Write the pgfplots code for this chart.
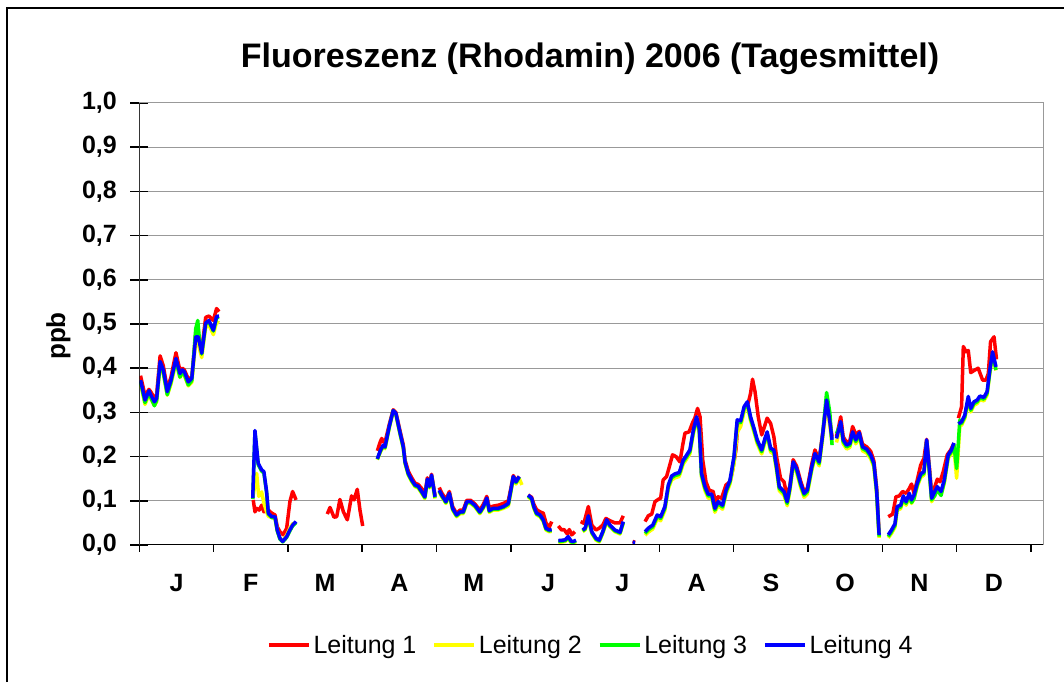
\documentclass[border=0pt]{standalone}
\usepackage{pgfplots}
\pgfplotsset{compat=1.18}
\usepackage{fontspec}
\setmainfont{Liberation Sans}
\definecolor{lred}{RGB}{255,0,0}
\definecolor{lyel}{RGB}{255,255,0}
\definecolor{lgrn}{RGB}{0,255,0}
\definecolor{lblu}{RGB}{0,0,255}
\begin{document}
\begin{tikzpicture}[x=1pt,y=1pt]
\useasboundingbox (0,0) rectangle (1064,682);
\draw[line width=2pt] (7,0) -- (7,674) -- (1064,674);
\node[font=\fontsize{34}{40}\selectfont\bfseries, anchor=base] at (590,614) {Fluoreszenz (Rhodamin) 2006 (Tagesmittel)};
\node[font=\fontsize{26}{30}\selectfont\bfseries, rotate=90, anchor=base] at (65,346) {ppb};
\begin{axis}[
  at={(139.3pt,137pt)}, anchor=south west,
  width=904pt, height=442pt, scale only axis,
  xmin=0, xmax=365, ymin=0, ymax=1,
  unbounded coords=jump,
  axis line style={color=gray!80, line width=1pt},
  ymajorgrids, major grid style={color=gray!80, line width=1pt},
  ytick={0,0.1,0.2,0.3,0.4,0.5,0.6,0.7,0.8,0.9,1.0},
  yticklabels={{0,0},{0,1},{0,2},{0,3},{0,4},{0,5},{0,6},{0,7},{0,8},{0,9},{1,0}},
  ytick pos=left, xtick pos=bottom,
  ytick align=center, xtick align=outside,
  major tick length=18pt, minor tick length=7pt,
  y tick style={black, line width=1.5pt},
  major x tick style={draw=none},
  minor x tick style={black, line width=1.5pt},
  xtick={15,45,75,105,135,165,195,225,255,285,315,345},
  xticklabels={J,F,M,A,M,J,J,A,S,O,N,D},
  minor xtick={0,30,60,90,120,150,180,210,240,270,300,330,360},
  yticklabel style={font=\fontsize{25}{28}\selectfont\bfseries, xshift=-10pt},
  xticklabel style={font=\fontsize{25}{28}\selectfont\bfseries, yshift=-8pt},
  legend columns=4,
  legend style={draw=none, at={(0.5,-0.226)}, anchor=center,
    font=\fontsize{25}{30}\selectfont,
    /tikz/every even column/.append style={column sep=13pt},
    nodes={inner xsep=3pt}},
  legend image code/.code={\draw[#1] (0pt,0pt) -- (40pt,0pt);},
  every axis plot/.append style={line width=3.5pt, line join=round},
]
% Leitung 1
\addplot[color=lred] table {
x y
0.5 0.383
2.3 0.338
3.9 0.352
4.7 0.346
6.1 0.332
7.0 0.340
8.4 0.428
9.7 0.405
11.3 0.353
12.8 0.380
14.8 0.435
16.4 0.395
17.4 0.400
18.2 0.396
19.8 0.375
21.2 0.380
22.8 0.478
23.8 0.475
25.2 0.440
26.8 0.515
28.1 0.518
29.9 0.508
31.2 0.535
32.2 0.528
nan nan
46.0 0.102
46.7 0.075
47.4 0.083
48.4 0.079
49.4 0.090
50.3 0.075
52.1 0.079
53.5 0.072
54.8 0.068
55.7 0.041
56.8 0.030
58.1 0.023
59.5 0.038
60.8 0.098
61.9 0.121
63.3 0.102
nan nan
75.9 0.070
77.0 0.085
78.6 0.063
79.7 0.064
81.0 0.103
82.4 0.075
84.0 0.057
85.7 0.111
86.7 0.102
88.0 0.126
89.1 0.079
90.2 0.043
nan nan
96.1 0.213
97.4 0.235
97.9 0.241
98.5 0.234
99.2 0.232
100.9 0.272
102.5 0.306
103.6 0.300
105.2 0.260
106.6 0.226
107.3 0.192
108.6 0.167
110.0 0.152
111.3 0.140
112.6 0.137
114.0 0.128
115.3 0.115
116.3 0.152
117.1 0.137
118.0 0.160
119.4 0.112
nan nan
121.1 0.130
122.1 0.118
123.8 0.103
125.2 0.121
126.5 0.087
128.1 0.071
129.5 0.079
130.8 0.079
132.2 0.101
133.8 0.101
135.5 0.093
137.5 0.079
138.9 0.092
140.3 0.110
141.3 0.085
142.9 0.088
144.9 0.090
147.0 0.094
149.0 0.100
149.9 0.125
151.0 0.157
152.1 0.146
153.4 0.155
nan nan
157.0 0.113
158.4 0.108
159.3 0.092
160.4 0.080
161.8 0.075
163.1 0.072
164.2 0.050
165.5 0.040
166.5 0.053
nan nan
169.2 0.043
170.5 0.034
171.5 0.035
172.8 0.025
173.6 0.035
174.6 0.023
175.9 0.030
nan nan
178.2 0.053
179.5 0.049
181.3 0.087
182.7 0.045
184.4 0.034
185.7 0.038
187.1 0.045
188.4 0.060
190.0 0.055
192.0 0.050
194.1 0.050
195.4 0.066
nan nan
199.2 0.008
200.2 0.006
nan nan
204.2 0.053
205.5 0.066
206.9 0.070
208.2 0.098
209.5 0.103
210.5 0.106
211.5 0.147
212.9 0.155
214.0 0.177
215.3 0.204
216.7 0.200
218.3 0.188
219.4 0.226
220.3 0.253
222.0 0.256
223.4 0.277
224.3 0.287
225.4 0.309
226.4 0.290
227.5 0.192
228.8 0.143
230.1 0.124
231.7 0.121
232.8 0.094
233.7 0.109
235.1 0.106
236.9 0.136
238.5 0.143
239.6 0.170
240.9 0.215
241.8 0.279
243.2 0.283
244.5 0.314
245.9 0.322
246.8 0.343
247.6 0.375
248.6 0.347
249.9 0.290
251.3 0.249
252.6 0.271
253.5 0.287
254.9 0.275
256.2 0.245
257.3 0.200
258.9 0.151
260.3 0.143
261.6 0.109
262.7 0.135
264.0 0.193
265.4 0.178
267.0 0.145
268.4 0.121
269.7 0.128
271.5 0.183
272.8 0.215
274.5 0.193
275.9 0.252
277.5 0.325
278.8 0.282
279.7 0.245
nan nan
281.5 0.245
283.2 0.290
284.2 0.245
285.6 0.232
286.9 0.236
288.0 0.268
289.3 0.250
290.7 0.257
292.0 0.228
293.7 0.222
295.3 0.212
296.6 0.190
297.7 0.130
298.7 0.025
nan nan
302.4 0.064
304.2 0.070
305.5 0.109
306.8 0.111
308.2 0.121
309.6 0.117
310.9 0.128
311.8 0.138
312.8 0.117
314.1 0.147
315.5 0.181
316.8 0.196
317.9 0.239
319.0 0.177
319.9 0.117
321.2 0.132
322.2 0.149
323.3 0.143
324.6 0.166
326.2 0.204
327.6 0.215
328.9 0.230
nan nan
330.7 0.287
332.0 0.313
332.7 0.449
333.8 0.437
334.7 0.440
335.7 0.390
337.4 0.396
338.7 0.400
340.5 0.373
341.8 0.373
342.8 0.388
343.7 0.460
345.1 0.471
346.1 0.420
};
\addlegendentry{Leitung 1}
% Leitung 2
\addplot[color=lyel] table {
x y
0.5 0.364
2.3 0.318
3.9 0.340
4.7 0.330
6.1 0.316
7.0 0.324
8.4 0.406
9.7 0.387
11.3 0.339
12.8 0.364
14.8 0.413
16.4 0.379
17.4 0.387
18.2 0.383
19.8 0.360
21.2 0.368
22.8 0.462
23.8 0.455
25.2 0.424
26.8 0.492
28.1 0.498
29.9 0.476
31.2 0.505
32.2 0.502
nan nan
45.8 0.105
47.4 0.162
48.2 0.110
49.4 0.120
50.3 0.095
51.4 0.075
52.1 0.065
53.5 0.062
54.8 0.060
55.7 0.032
56.8 0.015
57.9 0.010
59.5 0.022
60.8 0.038
61.9 0.048
63.3 0.050
nan nan
96.1 0.193
97.4 0.211
98.5 0.222
99.2 0.218
100.9 0.264
102.5 0.302
103.6 0.294
105.2 0.252
106.6 0.218
107.3 0.184
108.6 0.158
110.0 0.143
111.3 0.132
112.6 0.129
114.0 0.117
115.3 0.105
116.3 0.145
117.1 0.129
118.0 0.154
119.4 0.105
nan nan
121.1 0.120
122.1 0.109
123.8 0.094
125.2 0.113
126.5 0.079
128.1 0.064
129.5 0.071
130.8 0.071
132.2 0.094
133.8 0.094
135.5 0.086
137.5 0.071
138.9 0.083
140.3 0.102
141.3 0.074
142.9 0.079
144.9 0.079
147.0 0.083
149.0 0.088
149.9 0.115
151.0 0.150
152.1 0.138
153.4 0.150
154.5 0.136
nan nan
157.0 0.109
158.4 0.102
159.3 0.083
160.4 0.068
161.8 0.064
163.1 0.053
164.2 0.034
165.5 0.030
166.5 0.031
nan nan
169.2 0.006
171.2 0.007
172.0 0.008
173.2 0.015
174.3 0.005
175.2 0.004
176.3 0.007
nan nan
179.0 0.030
180.0 0.034
181.3 0.060
182.7 0.026
184.4 0.011
185.7 0.007
187.1 0.026
188.7 0.051
190.0 0.041
192.0 0.030
194.1 0.025
195.4 0.049
nan nan
204.2 0.022
205.5 0.029
207.3 0.036
209.1 0.059
210.5 0.055
212.2 0.078
213.6 0.127
214.9 0.147
216.3 0.152
218.0 0.155
219.6 0.183
220.7 0.192
222.3 0.206
223.7 0.251
225.0 0.281
226.1 0.255
227.0 0.153
228.4 0.123
229.7 0.106
231.1 0.106
232.4 0.074
233.7 0.089
235.5 0.081
236.9 0.115
238.5 0.138
240.1 0.185
241.4 0.255
242.8 0.268
244.2 0.302
245.5 0.315
246.8 0.281
248.2 0.255
249.5 0.229
251.3 0.206
252.6 0.232
253.5 0.247
254.9 0.210
256.2 0.206
257.3 0.168
258.4 0.123
260.3 0.112
261.6 0.089
262.7 0.123
264.0 0.179
265.4 0.164
267.0 0.131
268.4 0.108
269.7 0.115
271.5 0.168
272.8 0.198
274.5 0.179
275.9 0.240
277.5 0.319
278.8 0.270
279.7 0.229
nan nan
281.5 0.232
283.2 0.270
284.2 0.229
285.6 0.217
286.9 0.221
288.0 0.247
289.3 0.229
290.7 0.245
292.0 0.213
293.7 0.208
295.3 0.195
296.6 0.176
297.7 0.115
298.7 0.016
nan nan
302.4 0.016
303.7 0.026
305.1 0.040
306.0 0.079
307.4 0.082
308.5 0.103
309.6 0.090
310.9 0.109
311.8 0.094
312.8 0.105
314.1 0.132
315.5 0.153
316.8 0.158
317.9 0.230
319.0 0.162
319.9 0.098
321.2 0.113
322.2 0.124
323.7 0.113
325.0 0.139
326.6 0.196
327.9 0.207
328.9 0.223
330.0 0.151
331.3 0.270
332.0 0.271
333.3 0.286
334.7 0.328
335.7 0.301
337.0 0.316
338.3 0.320
339.4 0.329
341.0 0.326
342.3 0.339
343.4 0.388
344.5 0.429
345.9 0.395
};
\addlegendentry{Leitung 2}
% Leitung 3
\addplot[color=lgrn] table {
x y
0.5 0.369
2.3 0.322
3.9 0.345
4.7 0.333
6.1 0.315
7.0 0.327
8.4 0.411
9.7 0.390
11.3 0.340
12.8 0.369
14.8 0.418
16.4 0.380
17.4 0.392
18.2 0.386
19.8 0.362
21.2 0.372
22.8 0.490
23.6 0.508
24.2 0.470
25.2 0.432
26.8 0.500
28.1 0.505
29.9 0.484
31.2 0.514
32.2 0.515
nan nan
45.8 0.104
46.7 0.255
48.0 0.182
49.4 0.167
50.3 0.163
51.4 0.118
52.1 0.070
53.5 0.062
54.8 0.062
55.7 0.032
56.8 0.013
57.9 0.007
59.5 0.017
60.8 0.032
61.9 0.043
63.3 0.051
nan nan
96.1 0.194
97.4 0.213
98.5 0.224
99.2 0.220
100.9 0.266
102.5 0.304
103.6 0.296
105.2 0.254
106.6 0.220
107.3 0.186
108.6 0.160
110.0 0.145
111.3 0.134
112.6 0.131
114.0 0.119
115.3 0.107
116.3 0.147
117.1 0.131
118.0 0.156
119.4 0.107
nan nan
121.1 0.122
122.1 0.111
123.8 0.096
125.2 0.115
126.5 0.081
128.1 0.066
129.5 0.073
130.8 0.073
132.2 0.096
133.8 0.096
135.5 0.088
137.5 0.073
138.9 0.085
140.3 0.104
141.3 0.076
142.9 0.081
144.9 0.081
147.0 0.085
149.0 0.092
149.9 0.119
151.0 0.153
152.1 0.141
153.4 0.153
nan nan
157.0 0.111
158.4 0.104
159.3 0.085
160.4 0.070
161.8 0.066
163.1 0.055
164.2 0.036
165.5 0.032
166.5 0.033
nan nan
169.2 0.008
171.2 0.009
172.0 0.010
173.2 0.017
174.3 0.007
175.2 0.006
176.3 0.009
nan nan
179.0 0.032
180.0 0.036
181.3 0.064
182.7 0.028
184.4 0.013
185.7 0.009
187.1 0.028
188.7 0.055
190.0 0.043
192.0 0.032
194.1 0.027
195.4 0.051
nan nan
204.2 0.026
205.5 0.034
207.3 0.041
209.1 0.064
210.5 0.060
212.2 0.083
213.6 0.132
214.9 0.152
216.3 0.157
218.0 0.160
219.6 0.188
220.7 0.197
222.3 0.211
223.7 0.256
225.0 0.286
226.1 0.260
227.0 0.158
228.4 0.128
229.7 0.111
231.1 0.111
232.4 0.079
233.7 0.094
235.5 0.086
236.9 0.120
238.5 0.143
240.1 0.196
241.4 0.279
242.8 0.277
244.2 0.309
245.5 0.320
246.8 0.286
248.2 0.260
249.5 0.234
251.3 0.211
252.6 0.237
253.5 0.252
254.9 0.215
256.2 0.211
257.3 0.173
258.4 0.128
260.3 0.117
261.6 0.094
262.7 0.128
264.0 0.184
265.4 0.169
267.0 0.136
268.4 0.113
269.7 0.120
271.5 0.173
272.8 0.203
274.5 0.184
275.9 0.250
277.5 0.345
278.8 0.300
279.7 0.226
nan nan
281.5 0.252
283.2 0.275
284.2 0.234
285.6 0.222
286.9 0.226
288.0 0.252
289.3 0.234
290.7 0.250
292.0 0.218
293.7 0.213
295.3 0.200
296.6 0.181
297.7 0.120
298.7 0.019
nan nan
302.4 0.019
303.7 0.030
305.1 0.044
306.0 0.083
307.4 0.086
308.5 0.107
309.6 0.094
310.9 0.113
311.8 0.096
312.8 0.105
314.1 0.136
315.5 0.157
316.8 0.162
317.9 0.234
319.0 0.166
319.9 0.102
321.2 0.112
322.2 0.126
323.7 0.112
325.0 0.143
326.6 0.200
327.9 0.211
328.9 0.227
330.0 0.173
331.3 0.283
332.0 0.275
333.3 0.290
334.7 0.332
335.7 0.305
337.0 0.320
338.3 0.324
339.4 0.333
341.0 0.330
342.3 0.343
343.4 0.392
344.5 0.433
345.9 0.396
};
\addlegendentry{Leitung 3}
% Leitung 4
\addplot[color=lblu] table {
x y
0.5 0.373
2.3 0.328
3.9 0.349
4.7 0.339
6.1 0.324
7.0 0.332
8.4 0.415
9.7 0.396
11.3 0.347
12.8 0.373
14.8 0.422
16.4 0.388
17.4 0.396
18.2 0.392
19.8 0.369
21.2 0.377
22.8 0.471
23.8 0.471
25.2 0.434
26.8 0.502
28.1 0.508
29.9 0.486
31.2 0.517
32.2 0.518
nan nan
45.8 0.106
46.7 0.259
48.0 0.185
49.4 0.170
50.3 0.166
51.4 0.121
52.1 0.072
53.5 0.064
54.8 0.064
55.7 0.034
56.8 0.015
57.9 0.008
59.5 0.019
60.8 0.034
61.9 0.045
63.3 0.053
nan nan
96.1 0.195
97.4 0.215
98.5 0.226
99.2 0.222
100.9 0.268
102.5 0.304
103.6 0.298
105.2 0.256
106.6 0.222
107.3 0.188
108.6 0.162
110.0 0.147
111.3 0.136
112.6 0.133
114.0 0.121
115.3 0.109
116.3 0.149
117.1 0.133
118.0 0.158
119.4 0.109
nan nan
121.1 0.124
122.1 0.113
123.8 0.098
125.2 0.117
126.5 0.083
128.1 0.068
129.5 0.075
130.8 0.075
132.2 0.098
133.8 0.098
135.5 0.090
137.5 0.075
138.9 0.087
140.3 0.106
141.3 0.078
142.9 0.083
144.9 0.083
147.0 0.087
149.0 0.094
149.9 0.121
151.0 0.155
152.1 0.143
153.4 0.155
nan nan
157.0 0.113
158.4 0.106
159.3 0.087
160.4 0.072
161.8 0.068
163.1 0.057
164.2 0.038
165.5 0.034
166.5 0.035
nan nan
169.2 0.010
171.2 0.011
172.0 0.012
173.2 0.019
174.3 0.009
175.2 0.008
176.3 0.011
nan nan
179.0 0.034
180.0 0.038
181.3 0.066
182.7 0.030
184.4 0.015
185.7 0.011
187.1 0.030
188.7 0.057
190.0 0.045
192.0 0.034
194.1 0.029
195.4 0.053
nan nan
199.2 0.006
200.2 0.006
nan nan
204.2 0.030
205.5 0.038
207.3 0.045
209.1 0.068
210.5 0.064
212.2 0.087
213.6 0.136
214.9 0.156
216.3 0.161
218.0 0.164
219.6 0.192
220.7 0.201
222.3 0.215
223.7 0.260
225.0 0.290
226.1 0.264
227.0 0.162
228.4 0.132
229.7 0.115
231.1 0.115
232.4 0.083
233.7 0.098
235.5 0.090
236.9 0.124
238.5 0.147
240.1 0.200
241.4 0.283
242.8 0.281
244.2 0.313
245.5 0.324
246.8 0.290
248.2 0.264
249.5 0.238
251.3 0.215
252.6 0.241
253.5 0.256
254.9 0.219
256.2 0.215
257.3 0.177
258.4 0.132
260.3 0.121
261.6 0.098
262.7 0.132
264.0 0.188
265.4 0.173
267.0 0.140
268.4 0.117
269.7 0.124
271.5 0.177
272.8 0.207
274.5 0.188
275.9 0.249
277.5 0.328
278.8 0.279
279.7 0.238
nan nan
281.5 0.241
283.2 0.279
284.2 0.238
285.6 0.226
286.9 0.230
288.0 0.256
289.3 0.238
290.7 0.254
292.0 0.222
293.7 0.217
295.3 0.204
296.6 0.185
297.7 0.124
298.7 0.023
nan nan
302.4 0.023
303.7 0.034
305.1 0.048
306.0 0.087
307.4 0.090
308.5 0.111
309.6 0.098
310.9 0.117
311.8 0.102
312.8 0.113
314.1 0.140
315.5 0.161
316.8 0.166
317.9 0.238
319.0 0.170
319.9 0.106
321.2 0.121
322.2 0.132
323.7 0.121
325.0 0.147
326.6 0.204
327.9 0.215
328.9 0.231
nan nan
330.7 0.274
332.0 0.279
333.3 0.294
334.7 0.336
335.7 0.309
337.0 0.324
338.3 0.328
339.4 0.337
341.0 0.334
342.3 0.347
343.4 0.396
344.5 0.437
345.9 0.403
};
\addlegendentry{Leitung 4}
\draw[black, line width=2pt] (rel axis cs:0,1) -- (rel axis cs:0,0) -- (rel axis cs:1,0);
\end{axis}
\end{tikzpicture}
\end{document}
